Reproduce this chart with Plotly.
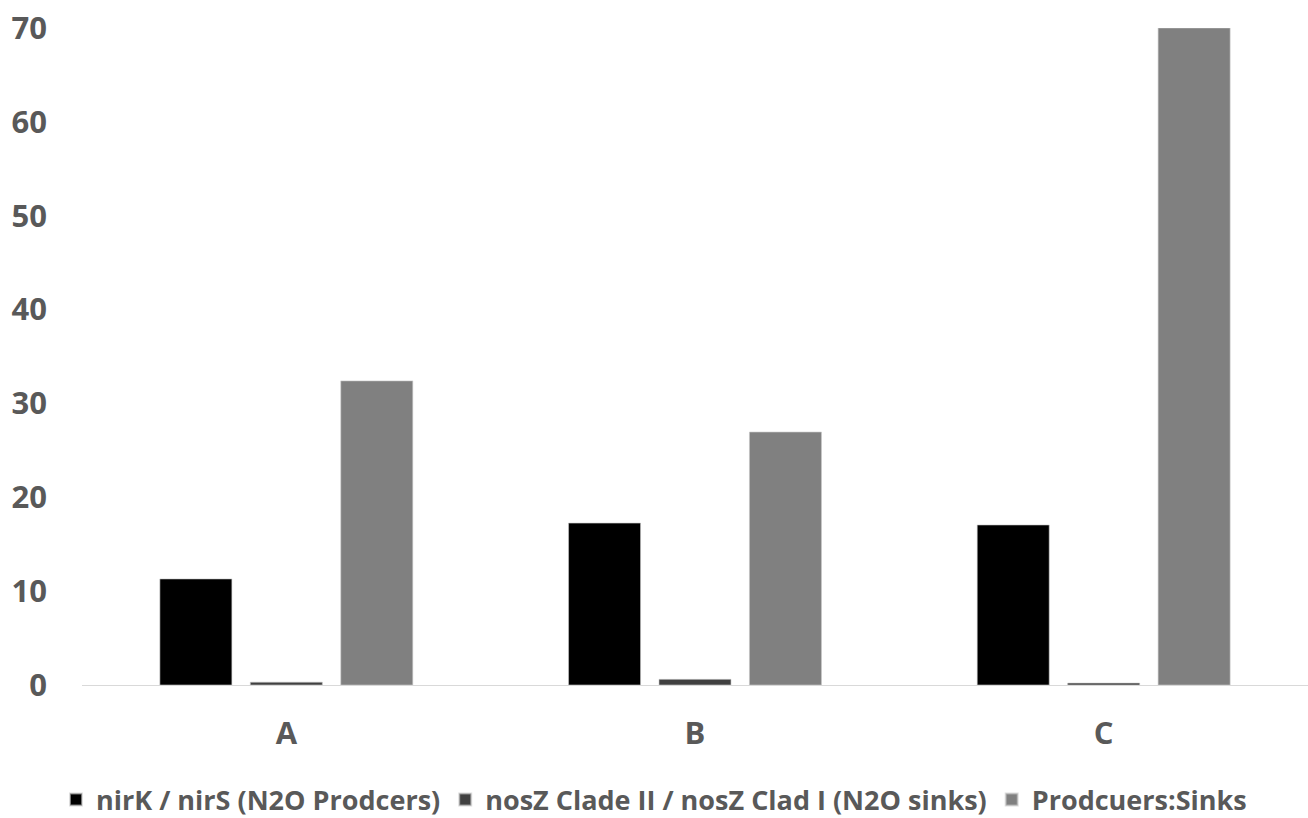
import plotly.graph_objects as go

categories = ["A", "B", "C"]
series_names = ["nirK / nirS (N2O Prodcers)", "nosZ Clade II / nosZ Clad I (N2O sinks)", "Prodcuers:Sinks"]
producers = [11.3, 17.25, 17.05]
sinks = [0.3, 0.6, 0.2]
ratio = [32.4, 26.95, 70.0]
colors = ["#000000", "#404040", "#808080"]
y_ticks = [0, 10, 20, 30, 40, 50, 60, 70]

FONT = "Open Sans, Noto Sans, DejaVu Sans, sans-serif"
TXT = "#595959"

fig = go.Figure()
for name, vals, col in zip(series_names, [producers, sinks, ratio], colors):
    fig.add_trace(go.Bar(
        x=categories, y=vals, name=name,
        marker=dict(color=col, line=dict(color="rgba(200,200,200,0.6)", width=1)),
    ))

fig.update_layout(
    width=1308, height=818,
    margin=dict(l=82, r=0, t=28, b=133),
    paper_bgcolor="white", plot_bgcolor="white",
    barmode="group", bargap=0.336, bargroupgap=0.204,
    font=dict(family=FONT, color=TXT),
    showlegend=True,
    legend=dict(
        orientation="h", x=0.5, xanchor="center", xref="container",
        y=0.022, yanchor="middle", yref="container",
        font=dict(family=FONT, size=27, color=TXT, weight="bold"),
        itemsizing="constant",
    ),
)
fig.update_xaxes(
    showline=True, linecolor="#d9d9d9", linewidth=1,
    showgrid=False, ticks="",
    tickfont=dict(family=FONT, size=31, color=TXT, weight="bold"),
    ticklabelstandoff=21,
)
fig.update_yaxes(
    range=[0, 70], tickvals=y_ticks, showgrid=False, zeroline=False,
    showline=False, ticks="",
    tickfont=dict(family=FONT, size=31, color=TXT, weight="bold"),
    ticklabelstandoff=34,
)

fig.write_html("out.html", config={"displayModeBar": False},
               post_script="document.body.style.margin='0';")
